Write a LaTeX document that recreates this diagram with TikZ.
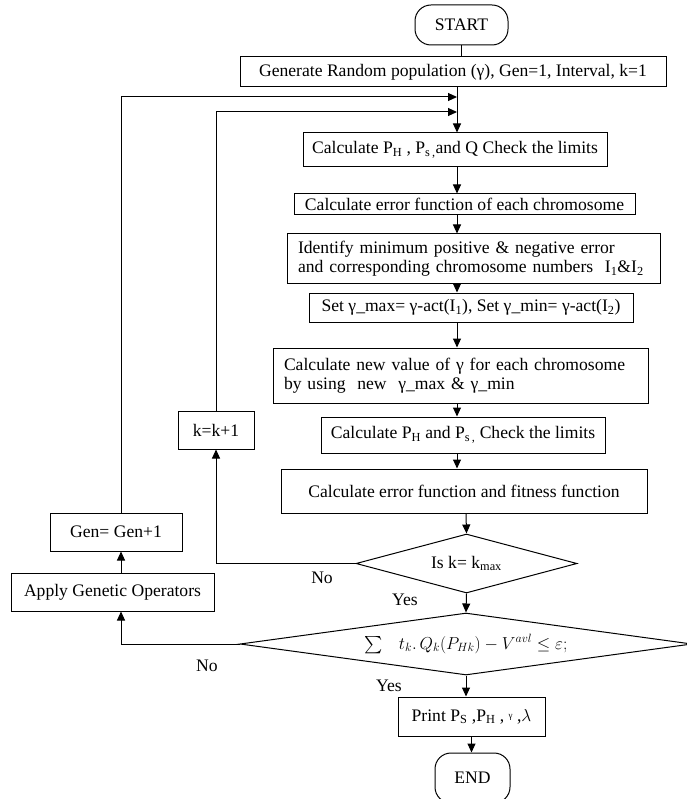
\documentclass[tikz,border=0pt]{standalone}
\usepackage{amsmath}
\usepackage{fontspec}
\setmainfont{Liberation Serif}
\usepackage{tikz}
\usetikzlibrary{shapes.geometric, arrows.meta, positioning, calc}

\begin{document}
\begin{tikzpicture}[
    x=1pt, y=-1pt,
    every node/.style={font=\fontsize{17.6}{19.5}\selectfont},
    box/.style={rectangle, draw, line width=1pt, inner sep=0pt, align=center},
    leftbox/.style={rectangle, draw, line width=1pt, inner ysep=0pt, inner xsep=11pt, align=left},
    term/.style={box, rounded corners=16pt},
    decision/.style={diamond, draw, line width=1pt, inner sep=0pt},
    lbl/.style={inner sep=0pt},
    arrow/.style={-{Triangle[length=9pt,width=8pt]}, line width=1pt},
    line/.style={line width=1pt}
]
    \useasboundingbox (0,0) rectangle (686,799);

    % Start
    \node[term, minimum width=93pt, minimum height=40pt] (start) at (461.5,25) {START};

    % Initialisation
    \node[box, minimum width=426pt, minimum height=30pt] (gen) at (453,72) {Generate Random population (γ), Gen=1, Interval, k=1};

    % Main column
    \node[box, minimum width=304pt, minimum height=34pt] (calcph) at (455,150) {Calculate P\textsubscript{H} , P\textsubscript{s\,,}and Q Check the limits};
    \node[box, minimum width=341pt, minimum height=21pt] (err) at (464.5,204.5) {Calculate error function of each chromosome};
    \node[leftbox, text width=351pt, minimum height=49pt] (ident) at (473.5,258.5) {Identify minimum positive \& negative error\\and corresponding chromosome numbers\ \ I\textsubscript{1}\&I\textsubscript{2}};
    \node[box, minimum width=324pt, minimum height=29pt] (set) at (471,307.5) {Set γ\_max= γ-act(I\textsubscript{1}), Set γ\_min= γ-act(I\textsubscript{2})};
    \node[leftbox, text width=353pt, minimum height=55pt] (calcnew) at (460.5,375.5) {Calculate new value of γ for each chromosome\\by using\ \ new\ \ γ\_max \& γ\_min};
    \node[box, minimum width=284pt, minimum height=36pt] (calcph2) at (463,435) {Calculate P\textsubscript{H} and P\textsubscript{s\,,} Check the limits};
    \node[box, minimum width=366pt, minimum height=44pt] (calcerr) at (464,491) {Calculate error function and fitness function};

    % Decisions
    \node[decision, aspect=3.75, minimum width=221pt, minimum height=59pt] (dec1) at (466.5,563.5) {Is k= k\textsubscript{max}};
    \node[decision, aspect=7.3, minimum width=452pt, minimum height=62pt] (dec2) at (466,644) {$\sum\ \ \ t_k.\,Q_k(P_{Hk})-V^{avl}\le\varepsilon;$};

    % Output
    \node[box, minimum width=147pt, minimum height=39pt] (print) at (471.5,716.5) {Print P\textsubscript{S} ,P\textsubscript{H} , \raisebox{0.35ex}{\fontsize{9}{9}\selectfont γ} ,$\lambda$};
    \node[term, minimum width=75pt, minimum height=50pt] (end) at (472.5,778) {END};

    % Loop boxes
    \node[box, minimum width=76pt, minimum height=38pt] (kinc) at (216,430) {k=k+1};
    \node[box, minimum width=132pt, minimum height=38pt] (gen1) at (116,532) {Gen= Gen+1};
    \node[box, minimum width=203pt, minimum height=38pt] (apply) at (112.5,592) {Apply Genetic Operators};

    % Branch labels
    \node[lbl] (no1) at (322,578) {No};
    \node[lbl] (yes1) at (405,600) {Yes};
    \node[lbl] (no2) at (207,666) {No};
    \node[lbl] (yes2) at (389,686) {Yes};

    % Helper points
    \coordinate (spine) at (457,0);
    \coordinate (spine2) at (466,0);
    \coordinate (left) at (121,0);
    \coordinate (j1) at (457,97);
    \coordinate (j2) at (457,112);

    % Arrows
    \draw[line] (start.south) -- (start.south |- gen.north);
    \draw[arrow] (gen.south -| spine) -- (calcph.north -| spine);
    \draw[arrow] (calcph.south -| spine) -- (err.north -| spine);
    \draw[arrow] (err.south -| spine) -- (ident.north -| spine);
    \draw[arrow] (ident.south -| spine) -- (set.north -| spine);
    \draw[arrow] (set.south -| spine) -- (calcnew.north -| spine);
    \draw[arrow] (calcnew.south -| spine) -- (calcph2.north -| spine);
    \draw[arrow] (calcph2.south -| spine) -- (calcerr.north -| spine);
    \draw[arrow] (calcerr.south -| spine2) -- (dec1.north);
    \draw[arrow] (dec1.south) -- (dec2.north);
    \draw[arrow] (dec2.south) -- (dec2.south |- print.north);
    \draw[arrow] (print.south) -- (print.south |- end.north);

    % Loops
    \draw[arrow] (dec1.west) -| (kinc.south);
    \draw[arrow] (kinc.north) |- (j2);
    \draw[arrow] (dec2.west) -| (apply.south -| left);
    \draw[arrow] (apply.north -| left) -- (gen1.south -| left);
    \draw[arrow] (gen1.north -| left) |- (j1);

\end{tikzpicture}
\end{document}
